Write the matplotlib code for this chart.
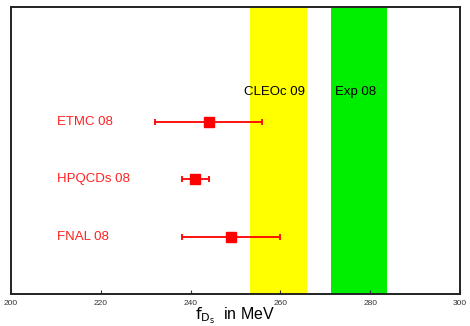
import matplotlib
matplotlib.use("Agg")
import matplotlib.pyplot as plt

plt.rcParams['font.family'] = ['Liberation Sans', 'DejaVu Sans']

# lattice results
labels = ["FNAL 08", "HPQCDs 08", "ETMC 08"]
values = [249, 241, 244]
errors = [11, 3, 12]
rows = [1, 2, 3]

# experimental bands (low, high)
band_names = ["CLEOc 09", "Exp 08"]
band_lo = [253.2, 271.3]
band_hi = [265.9, 283.7]
band_cols = ["#ffff00", "#00ee00"]

fig = plt.figure(figsize=(4.7, 3.26), dpi=100)
ax = fig.add_axes([0.0234, 0.098, 0.9553, 0.8805])

for lo, hi, c, name in zip(band_lo, band_hi, band_cols, band_names):
    ax.axvspan(lo, hi, color=c, lw=0, zorder=1)
    ax.text((lo + hi) / 2 - 0.8, 3.52, name, ha="center", va="center",
            fontsize=9.5, color="black", zorder=3)

ax.errorbar(values, rows, xerr=errors, fmt="s", color="#ff0000", ms=6.5,
            elinewidth=1.3, capsize=2, capthick=1.3, zorder=4)

for lab, r in zip(labels, rows):
    ax.text(210.2, r, lab, ha="left", va="center", fontsize=9.5,
            color="#ff2020", zorder=3)

ax.set_xlim(200, 300)
ax.set_ylim(0, 5)
ax.set_xticks([200, 220, 240, 260, 280, 300])
ax.set_yticks([])
ax.tick_params(axis="x", direction="in", length=3, labelsize=6, pad=4,
               labelcolor="#333333", color="#333333")
for s in ax.spines.values():
    s.set_linewidth(1.4)
    s.set_color("#222222")

ax.set_xlabel(r"$\mathrm{f_{D_s}}$  in MeV", fontsize=11.5, labelpad=-1)

fig.savefig("out.png", dpi=100)
